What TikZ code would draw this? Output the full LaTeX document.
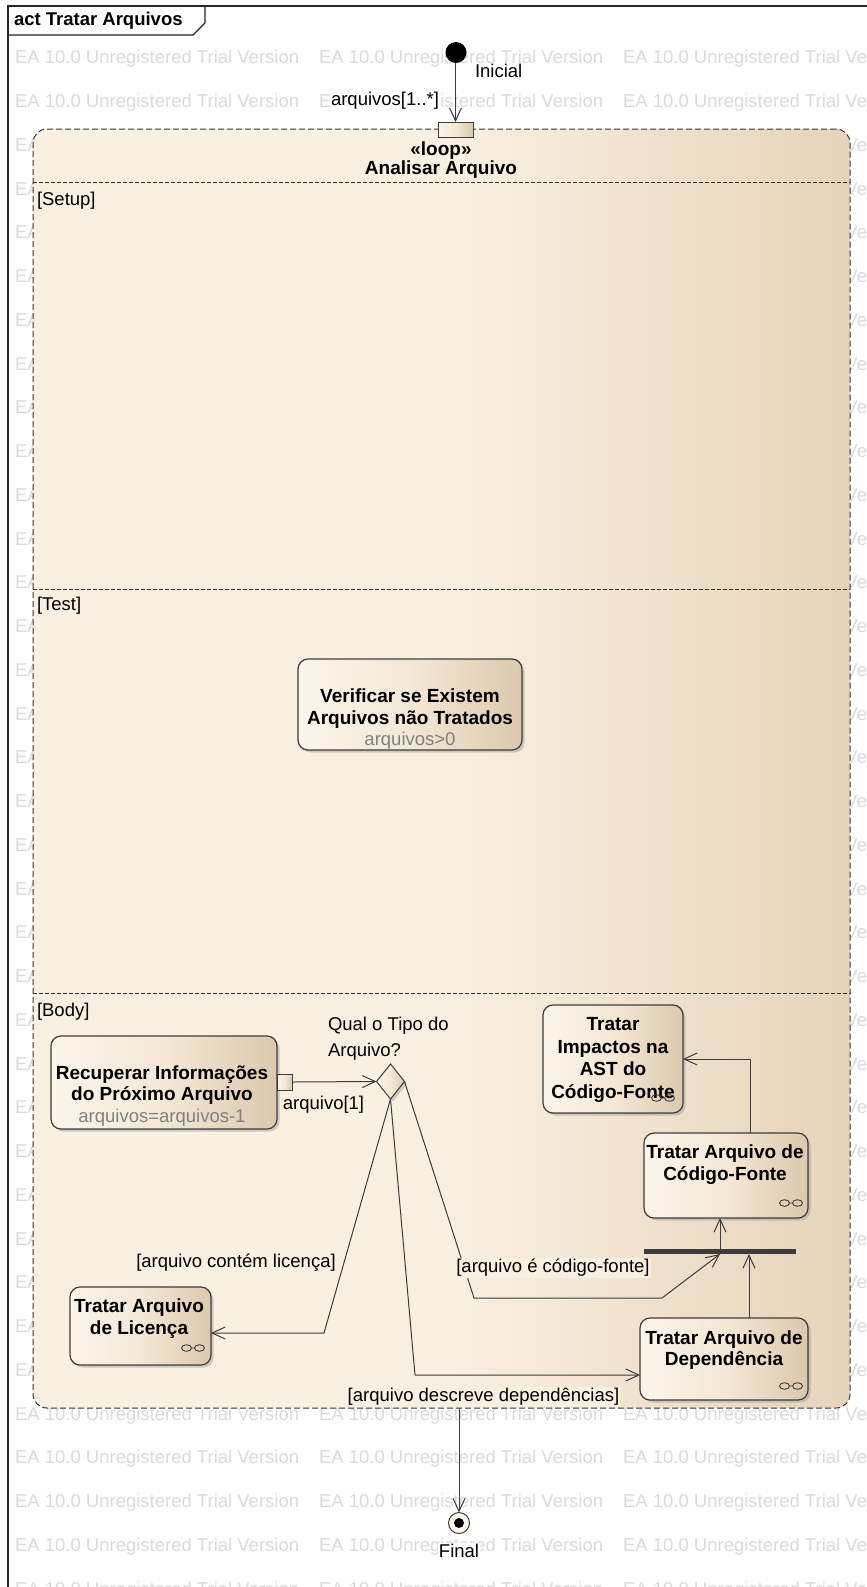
\documentclass[tikz,border=0pt]{standalone}
\usepackage{fontspec}
\setmainfont{Liberation Sans}
\usetikzlibrary{arrows.meta,shapes.geometric,shadows}

\definecolor{wmgray}{RGB}{218,218,218}
\definecolor{inkgray}{RGB}{60,60,60}
\definecolor{regionlight}{RGB}{250,240,226}
\definecolor{regiondark}{RGB}{230,212,186}
\definecolor{actlight}{RGB}{252,245,234}
\definecolor{actmid}{RGB}{244,232,214}
\definecolor{actdark}{RGB}{220,201,173}
\definecolor{notegray}{RGB}{128,128,128}

\newcommand{\plainsize}{\fontsize{18.5}{22}\selectfont}
\newcommand{\boldsize}{\fontsize{19}{21.5}\selectfont\bfseries}
\newcommand{\headsize}{\fontsize{19}{19.5}\selectfont\bfseries}
\newcommand{\notetext}[1]{{\color{notegray}\fontsize{18.5}{22}\selectfont\mdseries #1}}

\tikzset{
  every node/.style={inner sep=0pt, outer sep=0pt},
  wmtext/.style={anchor=west, text=wmgray, font=\plainsize},
  frameline/.style={draw=black!85, line width=1.2pt},
  region/.style={draw=black!80, line width=1pt, dash pattern=on 6pt off 3pt,
    rounded corners=14pt, left color=regionlight, right color=regiondark,
    middle color=regionlight, minimum width=817pt, minimum height=1279pt},
  sepline/.style={draw=black!80, line width=0.8pt, dash pattern=on 4pt off 2pt},
  boxshadow/.style={drop shadow={shadow xshift=2.5pt, shadow yshift=-2.5pt,
    fill=black!40, opacity=0.45}},
  action/.style={rectangle, draw=inkgray, line width=1.2pt, rounded corners=10pt,
    left color=actlight, right color=actdark, middle color=actmid, boxshadow},
  acttext/.style={align=center, font=\boldsize},
  pinbox/.style={rectangle, draw=inkgray, line width=1pt, left color=actlight,
    right color=actdark, middle color=actmid},
  decision/.style={diamond, draw=inkgray, line width=1pt, left color=actlight,
    right color=actdark, middle color=actmid, minimum width=28pt,
    minimum height=35pt, boxshadow},
  forkbar/.style={rectangle, fill=inkgray, minimum width=152pt, minimum height=5pt},
  flow/.style={draw=inkgray, line width=1pt,
    -{Straight Barb[length=13pt,width=12pt,line width=1pt]}},
  plain/.style={font=\plainsize},
  guard/.style={font=\plainsize, fill=regionlight, inner sep=1pt},
  onwhite/.style={font=\plainsize, fill=white, inner sep=1pt},
  rake/.pic={\draw[draw=inkgray, line width=0.9pt]
    (-6.5,0) ellipse [x radius=5, y radius=3.3]
    (6.5,0) ellipse [x radius=5, y radius=3.3]
    (-1.5,0) -- (1.5,0);}
}

\begin{document}
\begin{tikzpicture}[x=1pt,y=-1pt]
\useasboundingbox (0,0) rectangle (867,1587);
\fill[white] (0,0) rectangle (867,1587);

% watermark rows
\foreach \k in {0,...,35}{
  \foreach \c in {0,1,2}{
    \node[wmtext] (wm-\k-\c) at ({15+304*\c},{59+43.75*\k}) {EA 10.0 Unregistered Trial Version};
  }
}

% diagram frame and its name tab
\draw[frameline] (8,1600) -- (8,6) -- (880,6);
\draw[frameline] (8,35) -- (193,35) -- (205,23) -- (205,6);
\node[anchor=west, font=\fontsize{18.5}{22}\selectfont\bfseries] (title) at (14,21) {act Tratar Arquivos};

% loop node with its three sections
\node[region] (loop) at (441.5,768.5) {};
\coordinate (sepSetup) at (0,182);
\coordinate (sepTest) at (0,589);
\coordinate (sepBody) at (0,993);
\draw[sepline] (loop.west |- sepSetup) -- (loop.east |- sepSetup);
\draw[sepline] (loop.west |- sepTest) -- (loop.east |- sepTest);
\draw[sepline] (loop.west |- sepBody) -- (loop.east |- sepBody);
\node[align=center, font=\headsize] (loopname) at (441,160) {«loop»\\Analisar Arquivo};
\node[plain, anchor=west] (lblSetup) at (37,201) {[Setup]};
\node[plain, anchor=west] (lblTest) at (37,606) {[Test]};
\node[plain, anchor=west] (lblBody) at (37,1012) {[Body]};

% start node and input pin
\node[circle, fill=black, minimum size=21pt] (ini) at (456,52.5) {};
\node[anchor=west, font=\plainsize] (iniLbl) at (475,71) {Inicial};
\node[pinbox, minimum width=35pt, minimum height=15pt] (pinT) at (455.5,129.5) {};
\node[onwhite, anchor=east] (pinTLbl) at (440,101) {arquivos[1..*]};
\draw[flow] (pinT.north |- ini.south) -- (pinT.north);

% test section
\node[action, minimum width=224pt, minimum height=91pt] (verif) at (410,704.5) {};
\node[acttext] (verifTxt) at (410,719.5) {Verificar se Existem\\Arquivos não Tratados\\\notetext{arquivos>0}};

% body section
\node[action, minimum width=226pt, minimum height=93pt] (recup) at (164,1082.5) {};
\node[acttext] (recupTxt) at (162,1096) {Recuperar Informações\\do Próximo Arquivo\\\notetext{arquivos=arquivos-1}};
\node[pinbox, minimum width=15pt, minimum height=16pt] (pinR) at (284.5,1082) {};
\node[plain] (pinRLbl) at (323.5,1105) {arquivo[1]};

\node[decision] (dec) at (390.5,1081.5) {};
\node[align=left, anchor=west, font=\fontsize{18.5}{26}\selectfont] (decLbl) at (328,1039) {Qual o Tipo do\\Arquivo?};

\node[action, minimum width=140pt, minimum height=108pt] (imp) at (613,1059) {};
\node[acttext, font=\fontsize{19}{22.6}\selectfont\bfseries] (impTxt) at (613,1060) {Tratar\\Impactos na\\AST do\\Código-Fonte};

\node[action, minimum width=164pt, minimum height=85pt] (src) at (726,1175.5) {};
\node[acttext] (srcTxt) at (725,1164.5) {Tratar Arquivo de\\Código-Fonte};

\node[forkbar] (fork) at (720,1251.5) {};

\node[action, minimum width=168pt, minimum height=82pt] (dep) at (724,1359) {};
\node[acttext] (depTxt) at (724,1350) {Tratar Arquivo de\\Dependência};

\node[action, minimum width=141pt, minimum height=78pt] (lic) at (140.5,1326) {};
\node[acttext] (licTxt) at (139,1318.5) {Tratar Arquivo\\de Licença};

% call-behavior marks
\pic at ([xshift=-20pt,yshift=15pt]imp.south east) {rake};
\pic at ([xshift=-17pt,yshift=15pt]src.south east) {rake};
\pic at ([xshift=-17pt,yshift=14pt]dep.south east) {rake};
\pic at ([xshift=-18pt,yshift=17pt]lic.south east) {rake};

% flows in the body
\draw[flow] (pinR.east) -- (dec.west);
\coordinate (licBend) at (324,1333);
\draw[flow] (dec.south) -- (licBend) -- (licBend -| lic.east);
\coordinate (depBend) at (415,1375);
\draw[flow] (dec.south) -- (depBend) -- (depBend -| dep.west);
\coordinate (srcBendA) at (474,1298);
\coordinate (srcBendB) at (662,1298);
\draw[flow] (dec.east) -- (srcBendA) -- (srcBendB) -- (fork.south);
\draw[flow] (fork.north) -- (fork.north |- src.south);
\coordinate (depUp) at (749,0);
\draw[flow] (dep.north -| depUp) -- (fork.south -| depUp);
\coordinate (srcUp) at (750,0);
\draw[flow] (src.north -| srcUp) |- (imp.east);

% guards
\node[guard] (gLic) at (236,1263) {[arquivo contém licença]};
\node[guard] (gSrc) at (553,1268) {[arquivo é código-fonte]};
\node[guard] (gDep) at (483.5,1397) {[arquivo descreve dependências]};

% end node
\node[circle, draw=inkgray, line width=1pt, fill=actlight, minimum size=21pt] (fin) at (459,1523) {};
\node[circle, fill=black, minimum size=10pt] (finDot) at (fin) {};
\node[onwhite] (finLbl) at (459,1551) {Final};
\draw[flow] (fin.north |- loop.south) -- (fin.north);
\end{tikzpicture}
\end{document}
